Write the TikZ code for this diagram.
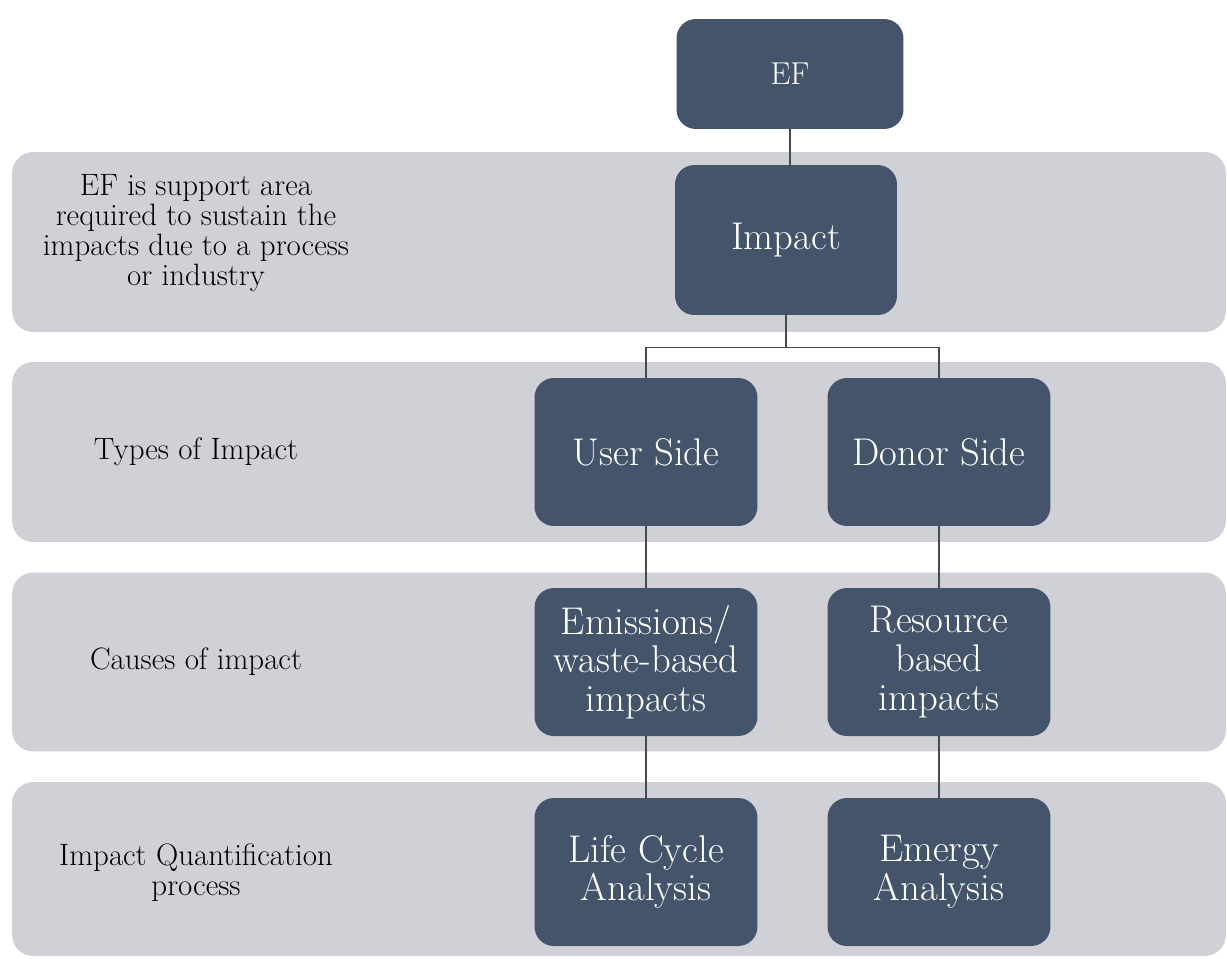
\documentclass[tikz,border=0pt]{standalone}
\usepackage{tikz}
\usetikzlibrary{positioning,calc}
\definecolor{boxfill}{RGB}{68,84,106}
\definecolor{bandfill}{RGB}{208,209,214}
\definecolor{linkcol}{RGB}{70,74,82}

\begin{document}
\begin{tikzpicture}[x=0.02cm, y=-0.02cm,
  band/.style={fill=bandfill,rounded corners=12pt,inner sep=0pt},
  stage/.style={fill=boxfill,rounded corners=11pt,text=white,align=center,inner sep=2pt,
    font=\fontsize{22}{22}\selectfont,minimum width=4.46cm,minimum height=2.96cm},
  side/.style={align=center,font=\fontsize{17.6}{17}\selectfont},
  link/.style={draw=linkcol,line width=0.6pt}]
\useasboundingbox[fill=white] (0,0) rectangle (1227,958);

% Bands
\node(band1)[band,minimum width=24.28cm,minimum height=3.6cm] at (619,242){};
\node(band2)[band,minimum width=24.28cm,minimum height=3.6cm] at (619,452){};
\node(band3)[band,minimum width=24.28cm,minimum height=3.58cm] at (619,662){};
\node(band4)[band,minimum width=24.28cm,minimum height=3.48cm] at (619,869){};

% Labels
\node(whatef)[side] at (196,233){EF is support area\\required to sustain the\\impacts due to a process\\or industry};
\node(types)[side] at (196,452){Types of Impact};
\node(causes)[side] at (196,662){Causes of impact};
\node(quant)[side] at (196,873){Impact Quantification\\process};

% Boxes
\node(ef)[stage,minimum width=4.54cm,minimum height=2.2cm,font=\fontsize{18}{18}\selectfont] at (790,74){EF};
\node(impact)[stage,minimum width=4.44cm,minimum height=3.0cm] at (786,240){Impact};
\node(user)[stage] at (646,452){User Side};
\node(donor)[stage] at (939,452){Donor Side};
\node(emis)[stage] at (646,662){Emissions/\\waste-based\\impacts};
\node(resource)[stage] at (939,662){Resource\\based\\impacts};
\node(lca)[stage] at (646,872){Life Cycle\\Analysis};
\node(emergy)[stage] at (939,872){Emergy\\Analysis};

% Links
\draw[link] (ef.south) -- (ef.south |- impact.north);
\draw[link] (impact.south) -- ++(0,32) -| (user.north);
\draw[link] (impact.south) -- ++(0,32) -| (donor.north);
\draw[link] (user) -- (emis);
\draw[link] (donor) -- (resource);
\draw[link] (emis) -- (lca);
\draw[link] (resource) -- (emergy);
\end{tikzpicture}
\end{document}
